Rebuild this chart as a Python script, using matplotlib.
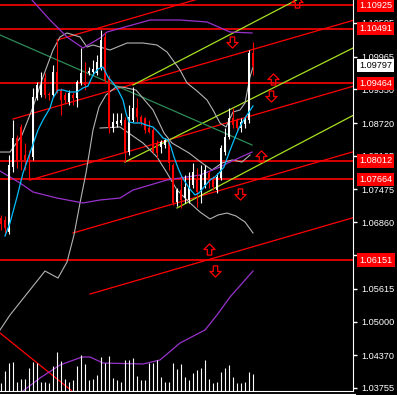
import matplotlib
matplotlib.use('Agg')
import matplotlib.pyplot as plt
from matplotlib.lines import Line2D
from matplotlib.path import Path

plt.rcParams['font.family'] = ['Liberation Sans', 'DejaVu Sans']

# ---- candles (one bar every index) ----
opens = [1.06941, 1.06903, 1.06678, 1.07896, 1.08440, 1.08646, 1.08121, 1.08121,
         1.08084, 1.09189, 1.09246, 1.09564, 1.09264, 1.09246, 1.09677, 1.09339,
         1.09246, 1.09115, 1.09246, 1.09189, 1.09471, 1.09471, 1.09658, 1.09677,
         1.09658, 1.09752, 1.10333, 1.09564, 1.08627, 1.08702, 1.08721, 1.08777,
         1.08177, 1.08777, 1.09002, 1.08834, 1.08815, 1.08627, 1.08590, 1.08346,
         1.08271, 1.08309, 1.08365, 1.07934, 1.07241, 1.07465, 1.07315, 1.07278,
         1.07559, 1.07653, 1.07465, 1.07559, 1.07784, 1.07653, 1.07465, 1.07690,
         1.08177, 1.08459, 1.08815, 1.08777, 1.08627, 1.08702, 1.08777, 1.10033]
highs = [1.06997, 1.06978, 1.08121, 1.08777, 1.08496, 1.08702, 1.08346, 1.08215,
         1.09377, 1.09489, 1.09677, 1.09658, 1.09302, 1.09808, 1.10276, 1.09377,
         1.09302, 1.09339, 1.09302, 1.09527, 1.10126, 1.09864, 1.09770, 1.09902,
         1.09995, 1.10464, 1.10408, 1.09621, 1.08908, 1.08908, 1.08908, 1.08834,
         1.09058, 1.09396, 1.09189, 1.08871, 1.08834, 1.08777, 1.08646, 1.08402,
         1.08402, 1.08440, 1.08402, 1.07971, 1.07503, 1.07746, 1.07746, 1.07803,
         1.07971, 1.07878, 1.07934, 1.07934, 1.07821, 1.07728, 1.07784, 1.08309,
         1.08627, 1.09002, 1.09002, 1.08815, 1.08815, 1.08834, 1.10089, 1.10239]
lows = [1.06716, 1.06622, 1.06641, 1.07803, 1.07878, 1.07840, 1.07840, 1.07653,
        1.08028, 1.09152, 1.09208, 1.09189, 1.09152, 1.09208, 1.09283, 1.08871,
        1.09096, 1.09058, 1.09058, 1.09021, 1.09433, 1.09339, 1.09621, 1.09621,
        1.09621, 1.09714, 1.09471, 1.08534, 1.08552, 1.08646, 1.08683, 1.07990,
        1.08121, 1.08740, 1.08721, 1.08683, 1.08534, 1.08534, 1.08159, 1.08065,
        1.08159, 1.08252, 1.07840, 1.07184, 1.07166, 1.07128, 1.07222, 1.07222,
        1.07503, 1.07147, 1.07222, 1.07503, 1.07503, 1.07465, 1.07409, 1.07653,
        1.08121, 1.08421, 1.08627, 1.08590, 1.08552, 1.08627, 1.08721, 1.09621]
closes = [1.06828, 1.06753, 1.07934, 1.08440, 1.07990, 1.08028, 1.08028, 1.08084,
          1.09208, 1.09433, 1.09433, 1.09246, 1.09246, 1.09677, 1.09302, 1.09152,
          1.09152, 1.09283, 1.09189, 1.09489, 1.09658, 1.09433, 1.09695, 1.09733,
          1.09864, 1.10276, 1.09527, 1.08627, 1.08740, 1.08758, 1.08777, 1.08177,
          1.08834, 1.09002, 1.08834, 1.08740, 1.08590, 1.08552, 1.08177, 1.08159,
          1.08365, 1.08402, 1.07971, 1.07222, 1.07465, 1.07278, 1.07522, 1.07522,
          1.07803, 1.07428, 1.07746, 1.07840, 1.07597, 1.07522, 1.07709, 1.08252,
          1.08459, 1.08815, 1.08683, 1.08627, 1.08740, 1.08796, 1.10033, 1.09797]
volumes = [800, 2000, 2800, 2900, 900, 1200, 1200, 2300, 2900, 2800,
           900, 900, 800, 2500, 3900, 3000, 1200, 900, 1100, 2500,
           3600, 2700, 1100, 1200, 1600, 3400, 2800, 3500, 1300, 1100,
           900, 3100, 3100, 3300, 1500, 1100, 1100, 2800, 2800, 3100,
           1400, 900, 900, 2800, 2200, 2700, 1400, 1100, 1800, 2100,
           2300, 3100, 1200, 800, 900, 1900, 2300, 2600, 1400, 800,
           800, 900, 1900, 1700]

# ---- indicator curves (bar index, price) ----
ma_x = [1, 2.25, 4, 5.5, 7.25, 9.25, 10.5, 12.25, 13, 14.25, 15.5, 17.25, 19, 20.5,
        21.75, 23, 24.25, 25.5, 26.75, 28, 29.25, 30.5, 31.25, 32, 33.25, 35, 36.25,
        38, 39.25, 40.5, 41.75, 42.5, 43.25, 44.25, 45.25, 47, 48.5, 49.5, 50.75,
        52.25, 53.5, 54.5, 55.75, 57, 58.25, 59.5, 61, 63]
ma_y = [1.06603, 1.06847, 1.07334, 1.07784, 1.08159, 1.08590, 1.08777, 1.09002,
        1.09189, 1.09339, 1.09339, 1.09302, 1.09302, 1.09377, 1.09414, 1.09621,
        1.09733, 1.09770, 1.09583, 1.09471, 1.09339, 1.09152, 1.08908, 1.08740,
        1.08721, 1.08721, 1.08683, 1.08646, 1.08552, 1.08440, 1.08402, 1.08271,
        1.08084, 1.07878, 1.07709, 1.07503, 1.07372, 1.07409, 1.07522, 1.07653,
        1.07709, 1.07784, 1.07896, 1.08159, 1.08402, 1.08627, 1.08815, 1.09040]

bb_up_x = [-0.25, 2.25, 5.25, 8, 10.5, 13, 14.75, 16.5, 19.75, 21.5, 23, 24.75, 27.25,
           31.5, 35.5, 39, 41.5, 44.75, 46.5, 49, 51.5, 53, 54.75, 56.25, 58, 59.75,
           61, 62.25, 63]
bb_up_y = [1.08177, 1.08177, 1.08496, 1.09021, 1.09583, 1.10089, 1.10333, 1.10408,
           1.10333, 1.10145, 1.10183, 1.10145, 1.10089, 1.10220, 1.10220, 1.10183,
           1.10052, 1.09714, 1.09471, 1.09321, 1.09152, 1.08965, 1.08721, 1.08646,
           1.08927, 1.08965, 1.09096, 1.09583, 1.09770]
bb_lo_x = [-0.25, 2.25, 11, 14.25, 16.5, 18.25, 19.75, 21.25, 23, 24.5, 26.25, 28.75,
           30.25, 33.75, 38, 40.75, 42.75, 47, 50.25, 52.75, 55.25, 57.75, 60.25, 62.25]
bb_lo_y = [1.04842, 1.05123, 1.05947, 1.05816, 1.06116, 1.06622, 1.07222, 1.07784,
           1.08590, 1.09021, 1.09246, 1.09396, 1.09396, 1.09339, 1.08965, 1.08534,
           1.08346, 1.08159, 1.07971, 1.07840, 1.07971, 1.08028, 1.07990, 1.08121]
bb2_x = [24.75, 29.75, 35.5, 39, 41.5, 44, 47.25, 49.75, 52.25, 54.25, 56.5, 58.75,
         61, 63]
bb2_y = [1.08627, 1.08646, 1.08346, 1.08084, 1.07784, 1.07465, 1.07222, 1.07053,
         1.06922, 1.06997, 1.07034, 1.06978, 1.06866, 1.06660]

env_up_x = [6, 7.75, 12.25, 16.5, 20.5, 24.75, 26.5, 37.25, 44.75, 51.5, 57.25, 62.75]
env_up_y = [1.11213, 1.11026, 1.10651, 1.10333, 1.10126, 1.10314, 1.10426, 1.10651,
            1.10651, 1.10614, 1.10426, 1.10408]
env_lo_x = [-0.25, 4.75, 8, 14, 20.5, 24.75, 29.75, 33, 41.5, 49.75, 54.75, 57.25, 62.75]
env_lo_y = [1.07821, 1.07597, 1.07428, 1.07315, 1.07222, 1.07278, 1.07315, 1.07465,
            1.07653, 1.07746, 1.07896, 1.07990, 1.08177]
env_bot_x = [5.5, 9.75, 14.75, 20.25, 22.25, 25.5, 35.5, 39.75, 44.75, 51, 54, 57.25, 63]
env_bot_y = [1.03699, 1.03942, 1.04186, 1.04336, 1.04336, 1.04223, 1.04205, 1.04280,
             1.04598, 1.04842, 1.05123, 1.05460, 1.05947]

# ---- drawn objects ----
levels = [1.10925, 1.10491, 1.09464, 1.08012, 1.07664, 1.06151]
last_price = 1.09797
red_trends = [((14, 1.10276), (88, 1.11888)),
              ((3, 1.08796), (88, 1.10644)),
              ((7.25, 1.07653), (88, 1.09409)),
              ((18, 1.06660), (88, 1.08181)),
              ((22.25, 1.05516), (88, 1.06946)),
              ((-0.25, 1.04786), (17.75, 1.03699))]
green_trends = [((33, 1.09433), (88, 1.11577)),
                ((31, 1.07990), (88, 1.10126)),
                ((44, 1.07128), (88, 1.08863))]
dark_trend = ((-0.25, 1.10370), (62.75, 1.08309))
up_arrows = [(68, 1.09546), (65, 1.08103), (52, 1.06360), (74, 1.10989)]
down_arrows = [(57.75, 1.10239), (67.5, 1.09227), (59.75, 1.07390), (53.5, 1.05947)]

tick_prices = [1.10595, 1.09965, 1.09350, 1.08720, 1.08105, 1.07475, 1.06860,
               1.06245, 1.05615, 1.05000, 1.04370, 1.03755]

fig = plt.figure(figsize=(3.97, 3.95), dpi=100, facecolor='black')
ax = fig.add_axes([0, 4 / 395, 353 / 397, 391 / 395], facecolor='black')
ax.set_xlim(-0.25, 88)
ax.set_ylim(1.036987, 1.110260)

# volumes on their own scale at the bottom
vax = ax.twinx()
vax.set_ylim(0, 39100)
vax.vlines(range(len(volumes)), 0, volumes, color='white', lw=0.8)
vax.axis('off')

# horizontal levels
for p in levels:
    ax.axhline(p, color='red', lw=1.2, zorder=2)

# trend lines
for (x0, y0), (x1, y1) in red_trends:
    ax.plot([x0, x1], [y0, y1], color='red', lw=0.9, zorder=2)
for (x0, y0), (x1, y1) in green_trends:
    ax.plot([x0, x1], [y0, y1], color='#a8e020', lw=0.9, zorder=2)
ax.plot([dark_trend[0][0], dark_trend[1][0]], [dark_trend[0][1], dark_trend[1][1]],
        color='#2e8b57', lw=0.9, zorder=2)

# indicators
ax.plot(bb_up_x, bb_up_y, color='#b4b4b4', lw=0.8, zorder=2)
ax.plot(bb_lo_x, bb_lo_y, color='#b4b4b4', lw=0.8, zorder=2)
ax.plot(bb2_x, bb2_y, color='#b4b4b4', lw=0.8, zorder=2)
ax.plot(env_up_x, env_up_y, color='#9932cc', lw=0.9, zorder=2)
ax.plot(env_lo_x, env_lo_y, color='#9932cc', lw=0.9, zorder=2)
ax.plot(env_bot_x, env_bot_y, color='#9932cc', lw=0.9, zorder=2)

# candles
for i in range(len(opens)):
    o, h, l, c = opens[i], highs[i], lows[i], closes[i]
    col = 'white' if c >= o else 'red'
    ax.vlines(i, l, h, color=col, lw=0.8, zorder=3)
    ax.bar(i, max(abs(c - o), 0.00008), bottom=min(o, c), width=0.65,
           color=col, linewidth=0, zorder=3)

ax.plot(ma_x, ma_y, color='#00bfff', lw=0.9, zorder=4)

# hollow arrow markers
up_path = Path([(0, 1), (1, 0), (0.4, 0), (0.4, -1), (-0.4, -1), (-0.4, 0), (-1, 0), (0, 1)],
               closed=True)
down_path = Path([(0, -1), (1, 0), (0.4, 0), (0.4, 1), (-0.4, 1), (-0.4, 0), (-1, 0), (0, -1)],
                 closed=True)
ax.plot([a[0] for a in up_arrows], [a[1] for a in up_arrows], ls='none',
        marker=up_path, ms=8, mfc='none', mec='red', mew=0.9, zorder=5)
ax.plot([a[0] for a in down_arrows], [a[1] for a in down_arrows], ls='none',
        marker=down_path, ms=8, mfc='none', mec='red', mew=0.9, zorder=5)

# axis styling
for s in ['top', 'left']:
    ax.spines[s].set_visible(False)
ax.spines['right'].set_color('white')
ax.spines['bottom'].set_color('white')
ax.set_xticks([])
ax.yaxis.tick_right()
ax.set_yticks(tick_prices)
ax.set_yticklabels([f'{p:.5f}' for p in tick_prices])
ax.tick_params(axis='y', colors='white', labelsize=6.6, length=3, width=1, pad=3)
fig.add_artist(Line2D([0, 355 / 397], [1.5 / 395, 1.5 / 395], color='white', lw=0.8))

trans = ax.get_yaxis_transform()
for p in levels:
    ax.text(1 + 6 / 353, p, f'{p:.5f}', transform=trans, ha='left', va='center',
            color='white', fontsize=6.6, zorder=6,
            bbox=dict(boxstyle='square,pad=0.25', fc='red', ec='none'))
ax.text(1 + 6 / 353, last_price, f'{last_price:.5f}', transform=trans, ha='left',
        va='center', color='black', fontsize=6.6, zorder=6,
        bbox=dict(boxstyle='square,pad=0.25', fc='white', ec='none'))

fig.savefig('out.png', dpi=100, facecolor='black')
